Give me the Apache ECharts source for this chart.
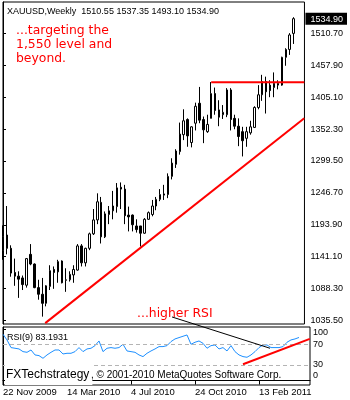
<!DOCTYPE html>
<html><head><meta charset="utf-8">
<script src="https://cdn.jsdelivr.net/npm/echarts@6/dist/echarts.min.js"></script>
<style>html,body{margin:0;padding:0;background:#fff}#c{width:350px;height:400px}</style>
</head><body><div id="c"></div>
<script>
const symbolName = 'XAUUSD';
const periodName = 'Weekly';
const dateTickIndex = [0, 16, 32, 48, 64];
const dateLabels = ['22 Nov 2009', '14 Mar 2010', '4 Jul 2010', '24 Oct 2010', '13 Feb 2011'];
const priceTicks = [1035.50, 1088.30, 1141.10, 1193.90, 1246.70, 1299.50, 1352.30, 1405.10, 1457.90, 1510.70];
const rsiTicks = [0, 30, 70, 100];
const rsiLevels = [70, 30];

const opens = [1152,1177,1155,1115,1109,1106,1094,1145,1129,1090,1079,1064,1092,1120,1116,1134,1102,1103,1111,1119,
  1159,1131,1155,1179,1202,1231,1174,1211,1217,1224,1256,1253,1210,1210,1192,1192,1180,1203,1211,1225,
  1236,1243,1244,1274,1294,1315,1343,1368,1330,1362,1395,1368,1348,1370,1411,1384,1376,1376,1417,1370,
  1357,1348,1337,1346,1355,1388,1409,1431,1425,1421,1425,1425,1471,1484,1510.55];
const highs = [1193,1225,1160,1138,1117,1110,1139,1162,1130,1103,1106,1094,1127,1125,1136,1135,1122,1117,1127,1162,
  1162,1156,1181,1220,1246,1240,1216,1225,1250,1263,1264,1260,1224,1211,1203,1192,1205,1216,1235,1240,
  1253,1260,1279,1304,1319,1363,1385,1370,1357,1396,1422,1373,1376,1430,1421,1400,1392,1420,1420,1376,
  1370,1356,1356,1366,1390,1425,1442,1439,1433,1446,1433,1472,1486,1511,1537.35];
const lows = [1136,1145,1108,1093,1073,1086,1090,1127,1089,1070,1042,1059,1086,1088,1098,1097,1083,1100,1098,1118,
  1125,1125,1152,1177,1195,1163,1172,1195,1203,1214,1220,1195,1183,1183,1181,1158,1179,1202,1208,1218,
  1233,1235,1238,1269,1288,1310,1334,1323,1322,1350,1362,1329,1346,1370,1376,1357,1369,1372,1350,1352,
  1324,1307,1323,1343,1354,1385,1399,1378,1405,1405,1418,1424,1457,1475,1493.10];
const closes = [1174,1155,1114,1109,1104,1095,1138,1129,1090,1079,1064,1093,1118,1115,1133,1098,1103,1112,1120,1159,
  1131,1155,1179,1202,1232,1174,1212,1217,1225,1255,1253,1209,1207,1194,1186,1180,1203,1214,1225,1236,
  1244,1245,1274,1296,1316,1344,1366,1341,1356,1390,1367,1351,1360,1411,1383,1372,1380,1417,1368,1357,
  1340,1333,1348,1356,1388,1409,1431,1414,1416,1428,1428,1471,1484,1508,1534.90];
const rsi9 = [89.3,78.4,63.6,62.3,61.0,55.8,54.5,59.0,49.4,48.1,42.9,49.4,54.5,59.0,59.0,51.3,52.6,52.6,55.8,63.6,
  55.8,61.0,62.3,67.4,76.4,55.8,62.3,63.6,62.3,63.6,70.0,57.1,55.8,54.5,49.4,46.2,52.6,57.1,61.0,65.5,
  65.5,67.4,75.2,80.3,82.9,85.5,88.0,70.0,73.9,76.4,71.9,62.3,67.4,68.7,61.0,63.6,57.1,67.4,55.8,49.4,
  46.2,44.9,49.4,55.8,63.6,68.7,68.7,63.6,63.6,63.6,65.5,73.9,78.4,80.3,83.19];
const rsiLabel = 'RSI(9) 83.1931';

const supportLine = [[10.75, 1031.3], [76.7, 1370.1]];
const resistanceLine = [[53, 1429.6], [76.7, 1429.6]];
const rsiSupportLine = [[60, 31.5], [76.7, 80.5]];
const rsiTrendLine = [[42.25, 122.8], [66.75, 62.3]];

const noteMain = ['...targeting the', '1,550 level and', 'beyond.'];
const noteRsi = '...higher RSI';
const brand = 'FXTechstrategy';
const copyright = ', \u00a9 2001-2010 MetaQuotes Software Corp.';

const last = opens.length - 1;
const header = symbolName + ',' + periodName + '  ' +
  [opens[last], highs[last], lows[last], closes[last]].map(v => v.toFixed(2)).join(' ');

const candles = opens.map((o, i) => [i, o, closes[i], lows[i], highs[i]]);
const rsiData = rsi9.map((v, i) => [i, v]);

const SMALL = 'Liberation Sans';
const chart = echarts.init(document.getElementById('c'), null, {renderer: 'canvas'});
chart.setOption({
  animation: false,
  backgroundColor: '#fff',
  grid: [
    {left: 3, top: 2, width: 307, height: 322, show: true, borderColor: '#000', borderWidth: 1, backgroundColor: '#fff'},
    {left: 3, top: 327, width: 307, height: 58, show: true, borderColor: '#000', borderWidth: 1, backgroundColor: '#fff'}
  ],
  xAxis: [
    {type: 'value', gridIndex: 0, min: 0, max: 76.75, axisLine: {show: false}, axisTick: {show: false},
     axisLabel: {show: false}, splitLine: {show: false}},
    {type: 'value', gridIndex: 1, min: 0, max: 76.75, position: 'bottom',
     axisLine: {show: true, lineStyle: {color: '#000', width: 1}},
     axisTick: {show: true, customValues: dateTickIndex, length: 4, lineStyle: {color: '#000'}},
     axisLabel: {show: true, customValues: dateTickIndex, align: 'left', margin: 2,
       fontFamily: SMALL, fontSize: 9.5, color: '#000',
       formatter: v => dateLabels[dateTickIndex.indexOf(v)] || ''},
     splitLine: {show: false}}
  ],
  yAxis: [
    {type: 'value', gridIndex: 0, position: 'right', min: 1029.8, max: 1562.5,
     axisLine: {show: true, lineStyle: {color: '#000'}},
     axisTick: {show: true, customValues: priceTicks, length: 3, lineStyle: {color: '#000'}},
     axisLabel: {show: true, customValues: priceTicks.concat([closes[last]]), margin: 1,
       fontFamily: SMALL, fontSize: 9, color: '#000',
       formatter: v => v === closes[last] ? '{cur|' + v.toFixed(2) + '}' : '{n|' + v.toFixed(2) + '}',
       rich: {
         n: {fontFamily: SMALL, fontSize: 9, color: '#000', padding: [0, 0, 0, 5]},
         cur: {fontFamily: SMALL, fontSize: 9, color: '#fff', backgroundColor: '#000', padding: [2, 4, 1, 5]}
       }},
     splitLine: {show: false}},
    {type: 'value', gridIndex: 1, position: 'right', min: -8.7, max: 103.4,
     axisLine: {show: true, lineStyle: {color: '#000'}},
     axisTick: {show: true, customValues: rsiTicks, length: 3, lineStyle: {color: '#000'}},
     axisLabel: {show: true, customValues: rsiTicks, margin: 1,
       fontFamily: SMALL, fontSize: 9, color: '#000',
       formatter: v => v === 100 ? '{t|100}' : (v === 0 ? '{b|0}' : '{m|' + v + '}'),
       rich: {
         t: {fontFamily: SMALL, fontSize: 9, color: '#000', padding: [7, 0, 0, 2]},
         b: {fontFamily: SMALL, fontSize: 9, color: '#000', padding: [0, 0, 10, 2]},
         m: {fontFamily: SMALL, fontSize: 9, color: '#000', padding: [0, 0, 0, 2]}
       }},
     splitLine: {show: false}}
  ],
  series: [
    {type: 'candlestick', xAxisIndex: 0, yAxisIndex: 0, data: candles,
     encode: {x: 0, y: [1, 2, 3, 4]}, barWidth: 2,
     itemStyle: {color: '#fff', color0: '#000', borderColor: '#000', borderColor0: '#000', borderWidth: 1}},
    {type: 'line', xAxisIndex: 0, yAxisIndex: 0, data: supportLine, symbol: 'none',
     lineStyle: {color: '#ff0000', width: 2}, z: 5},
    {type: 'line', xAxisIndex: 0, yAxisIndex: 0, data: resistanceLine, symbol: 'none',
     lineStyle: {color: '#ff0000', width: 2}, z: 5},
    {type: 'line', xAxisIndex: 1, yAxisIndex: 1, data: rsiData, symbol: 'none',
     lineStyle: {color: '#1E90FF', width: 1}, z: 4,
     markLine: {silent: true, symbol: 'none', label: {show: false},
       lineStyle: {color: '#b4b4b4', type: [4, 3], width: 1},
       data: rsiLevels.map(v => ({yAxis: v}))}},
    {type: 'line', xAxisIndex: 1, yAxisIndex: 1, data: rsiSupportLine, symbol: 'none',
     lineStyle: {color: '#ff0000', width: 2}, z: 5},
    {type: 'line', xAxisIndex: 1, yAxisIndex: 1, data: rsiTrendLine, symbol: 'none', clip: false,
     lineStyle: {color: '#000', width: 1}, z: 5}
  ],
  graphic: [
    {type: 'text', x: 7, y: 12, z: 100, style: {text: header, fontFamily: SMALL, fontSize: 9, fill: '#000', verticalAlign: 'middle'}},
    {type: 'text', x: 16, y: 23.5, z: 100, style: {text: noteMain.join('\n'), fontFamily: 'DejaVu Sans', fontSize: 12.4, lineHeight: 14.2, fill: '#ff0000', verticalAlign: 'top'}},
    {type: 'text', x: 137, y: 313.5, z: 100, style: {text: noteRsi, fontFamily: 'DejaVu Sans', fontSize: 12.4, fill: '#ff0000', verticalAlign: 'middle'}},
    {type: 'text', x: 7, y: 337.5, z: 100, style: {text: rsiLabel, fontFamily: SMALL, fontSize: 9, fill: '#000', verticalAlign: 'middle'}},
    {type: 'text', x: 5, y: 374.5, z: 100, style: {text: brand, fontFamily: SMALL, fontSize: 12, fill: '#000', verticalAlign: 'middle', backgroundColor: '#fff', padding: [7, 3, 2, 1]}},
    {type: 'text', x: 91, y: 375, z: 100, style: {text: copyright, fontFamily: SMALL, fontSize: 10, fill: '#000', verticalAlign: 'middle'}}
  ]
});
</script>
</body></html>
